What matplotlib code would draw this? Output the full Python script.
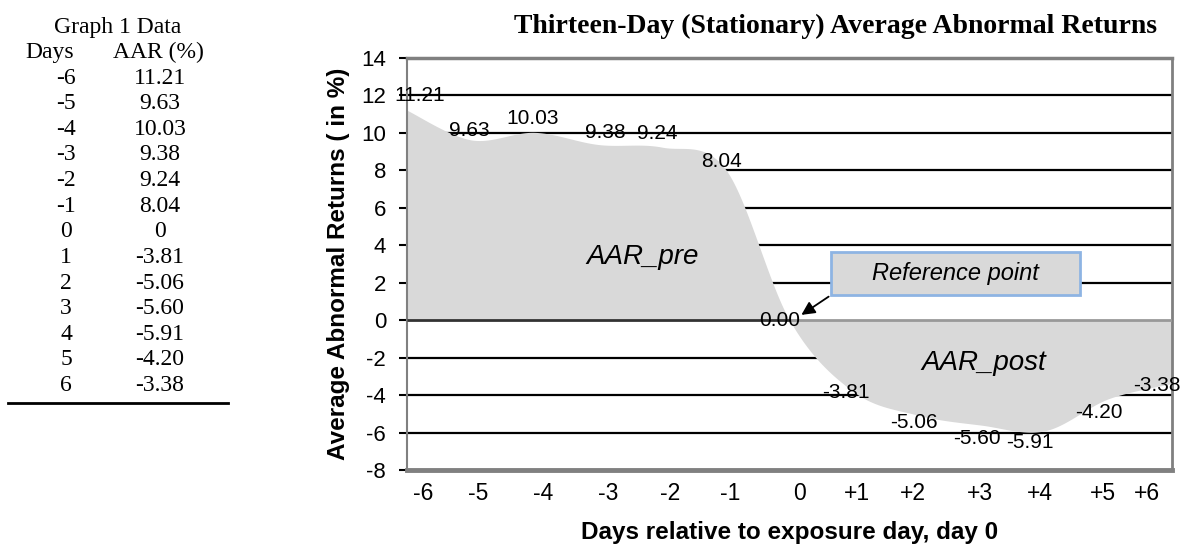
import numpy as np
import matplotlib
matplotlib.use('Agg')
from matplotlib import pyplot as plt
from matplotlib.patches import Rectangle

# data (Graph 1 Data)
days = [-6, -5, -4, -3, -2, -1, 0, 1, 2, 3, 4, 5, 6]
aar = [11.21, 9.63, 10.03, 9.38, 9.24, 8.04, 0, -3.81, -5.06, -5.60, -5.91, -4.20, -3.38]
aar_table = ['11.21', '9.63', '10.03', '9.38', '9.24', '8.04', '0',
             '-3.81', '-5.06', '-5.60', '-5.91', '-4.20', '-3.38']
tick_labels = ['-6', '-5', '-4', '-3', '-2', '-1', '0', '+1', '+2', '+3', '+4', '+5', '+6']

# layout tweaks (label nudges, in pixels)
tick_shift = [0.25, 0.11, 0.13, 0.15, 0.13, 0.07, 0.16, 0.06, -0.06, -0.01, -0.07, -0.08, -0.39]
label_off = [(13, 15), (-1, 9), (-2, 14), (7, 12), (-5, 14), (-4, 8), (-10, 0),
             (-7, -1), (-3, -8), (-4, -13), (-15, -12), (-9, -14), (-15, -2)]

W, H = 1198, 549


def fpos(x, y):
    return x / W, 1 - y / H


def smooth(x, y, n=40):
    # excel-like bezier smoothing
    x = np.asarray(x, float)
    y = np.asarray(y, float)
    xs, ys = [], []
    m = len(x)
    for i in range(m - 1):
        i0, i3 = max(i - 1, 0), min(i + 2, m - 1)
        c1x = x[i] + (x[i + 1] - x[i0]) / 6
        c1y = y[i] + (y[i + 1] - y[i0]) / 6
        c2x = x[i + 1] - (x[i3] - x[i]) / 6
        c2y = y[i + 1] - (y[i3] - y[i]) / 6
        t = np.linspace(0, 1, n)
        a, b, c, d = (1 - t) ** 3, 3 * t * (1 - t) ** 2, 3 * t ** 2 * (1 - t), t ** 3
        xs.append(a * x[i] + b * c1x + c * c2x + d * x[i + 1])
        ys.append(a * y[i] + b * c1y + c * c2y + d * y[i + 1])
    return np.concatenate(xs), np.concatenate(ys)


plt.rcParams['font.family'] = 'Liberation Sans'
plt.rcParams['axes.unicode_minus'] = False

fig = plt.figure(figsize=(W / 100, H / 100), dpi=100)
ax = fig.add_axes([407 / W, 1 - 470 / H, (1172 - 407) / W, (470 - 58) / H])

sx, sy = smooth(days, aar)
ax.fill_between(sx, sy, 0, color='#d9d9d9', lw=0, zorder=2)

for g in [-6, -4, -2, 2, 4, 6, 8, 10, 12]:
    ax.axhline(g, color='black', lw=1.6, zorder=1)
ax.hlines(0, days[0], days[6], color='#333333', lw=2, zorder=3)
ax.hlines(0, days[6], days[-1], color='#999999', lw=2, zorder=3)

ax.set_xlim(days[0], days[-1])
ax.set_ylim(-8, 14)
ax.set_yticks(range(-8, 15, 2))
ax.tick_params(axis='y', length=6, width=1.5, color='black', pad=9, labelsize=16)
ax.set_xticks(np.array(days) + np.array(tick_shift))
ax.set_xticklabels(tick_labels)
ax.tick_params(axis='x', length=0, pad=9, labelsize=16.5)

for side, lw in [('left', 1.5), ('right', 2), ('top', 2.5), ('bottom', 3.5)]:
    ax.spines[side].set_color('#808080')
    ax.spines[side].set_linewidth(lw)

for d, v, (dx, dy) in zip(days, aar, label_off):
    ax.annotate('%.2f' % v, (d, v), xytext=(dx, dy), textcoords='offset pixels',
                ha='center', va='center', fontsize=15, zorder=5)

ax.set_title('Thirteen-Day (Stationary) Average Abnormal Returns', family='Liberation Serif',
             fontweight='bold', fontsize=20, x=0.56, pad=18)
ax.set_ylabel('Average Abnormal Returns ( in %)', fontweight='bold', fontsize=17.5, labelpad=8)
ax.set_xlabel('Days relative to exposure day, day 0', fontweight='bold', fontsize=17.5, labelpad=11)

ax.text(-2.3, 3.4, 'AAR_pre', style='italic', fontsize=20, ha='center', va='center', zorder=5)
ax.text(3.05, -2.3, 'AAR_post', style='italic', fontsize=20, ha='center', va='center', zorder=5)

ax.add_patch(Rectangle((0.65, 1.34), 3.91, 2.3, facecolor='#d9d9d9', edgecolor='#8eb4e3',
                       lw=2, zorder=6))
ax.text(2.6, 2.5, 'Reference point', style='italic', fontsize=17, ha='center', va='center', zorder=7)
ax.annotate('', xy=(0.15, 0.2), xytext=(0.65, 1.34),
            arrowprops=dict(arrowstyle='-|>', color='black', lw=1.3, mutation_scale=20), zorder=7)

# data table on the left
row0, step = 27, 25.6
fig.text(*fpos(118, row0), 'Graph 1 Data', family='Liberation Serif', fontsize=17, ha='center', va='center')
fig.text(*fpos(50, row0 + step), 'Days', family='Liberation Serif', fontsize=17, ha='center', va='center')
fig.text(*fpos(158, row0 + step), 'AAR (%)', family='Liberation Serif', fontsize=17, ha='center', va='center')
for i, (d, s) in enumerate(zip(days, aar_table)):
    y = row0 + (i + 2) * step
    fig.text(*fpos(66, y), str(d), family='Liberation Serif', fontsize=17, ha='center', va='center')
    fig.text(*fpos(160, y), s, family='Liberation Serif', fontsize=17, ha='center', va='center')
yl = row0 + 14 * step + 18
fig.add_artist(plt.Line2D([8 / W, 228 / W], [1 - yl / H, 1 - yl / H], color='black', lw=2))

fig.savefig('out.png', dpi=100)
